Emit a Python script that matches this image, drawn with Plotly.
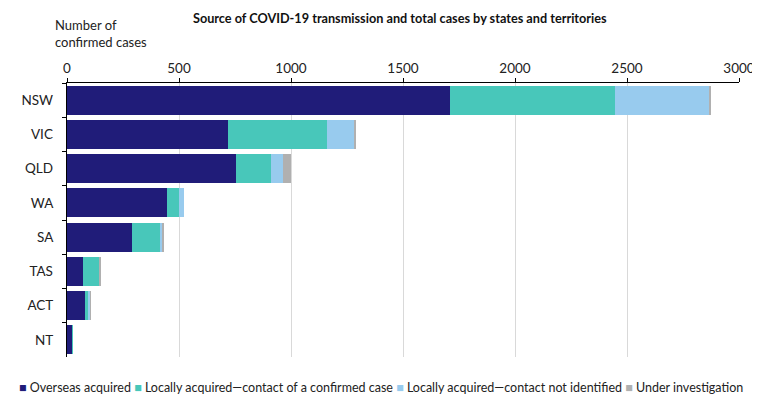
"""Stacked bar chart: source of COVID-19 transmission by state."""

import plotly.graph_objects as go

states = ["NSW", "VIC", "QLD", "WA", "SA", "TAS", "ACT", "NT"]
overseas = [1711, 720, 755, 446, 292, 73, 80, 24]
local_contact = [735, 441, 155, 55, 125, 68, 16, 2]
local_unknown = [423, 121, 53, 23, 9, 0, 8, 0]
under_investigation = [8, 10, 37, 0, 3, 9, 1, 0]

series = [
    ("Overseas acquired", overseas, "#201c79"),
    ("Locally acquired\u2014contact of a confirmed case", local_contact, "#48c7ba"),
    ("Locally acquired\u2014contact not identified", local_unknown, "#98cbee"),
    ("Under investigation", under_investigation, "#b0b0b0"),
]

FONT = "Lato, sans-serif"

fig = go.Figure()
for name, values, color in series:
    fig.add_trace(
        go.Bar(
            y=states,
            x=values,
            name=name,
            orientation="h",
            showlegend=False,
            marker=dict(color=color, line=dict(width=0)),
        )
    )

# legend drawn as a single line of text (plotly's legend wraps at this width)
legend_text = " ".join(
    f'<span style="color:{color}">\u25a0</span> {name}' for name, _, color in series
)

# page body has an 8px margin, so the figure is a bit smaller than the window
fig.update_layout(
    barmode="stack",
    bargap=0.15,
    width=752,
    height=409,
    margin=dict(l=59, r=21, t=75, b=60, autoexpand=False),
    paper_bgcolor="white",
    plot_bgcolor="white",
    font=dict(family=FONT, size=13, color="#222"),
    title=dict(
        text="<b>Source of COVID-19 transmission and total cases by states and territories</b>",
        x=0.521,
        xanchor="center",
        y=0.973,
        yanchor="middle",
        font=dict(size=12.7, color="#111"),
    ),
    xaxis=dict(
        side="top",
        range=[0, 3000],
        dtick=500,
        automargin=False,
        showgrid=True,
        gridcolor="#d9d9d9",
        gridwidth=1,
        showline=True,
        linecolor="black",
        ticks="outside",
        ticklen=4,
        tickcolor="black",
        zeroline=False,
        tickfont=dict(size=13.5),
    ),
    yaxis=dict(
        autorange="reversed",
        automargin=False,
        showline=True,
        linecolor="black",
        ticks="outside",
        tickson="boundaries",
        ticklen=4,
        tickcolor="black",
        ticksuffix="   ",
        tickfont=dict(size=13.5),
    ),
    annotations=[
        dict(
            text="Number of<br>confirmed cases",
            xref="paper",
            yref="paper",
            x=-0.021,
            y=1.25,
            xanchor="left",
            yanchor="top",
            align="left",
            showarrow=False,
            font=dict(size=13),
        ),
        dict(
            text=legend_text,
            xref="paper",
            yref="paper",
            x=0.467,
            y=-0.113,
            xanchor="center",
            yanchor="middle",
            showarrow=False,
            font=dict(size=12.5),
        ),
    ],
)

fig.write_html("out.html")
